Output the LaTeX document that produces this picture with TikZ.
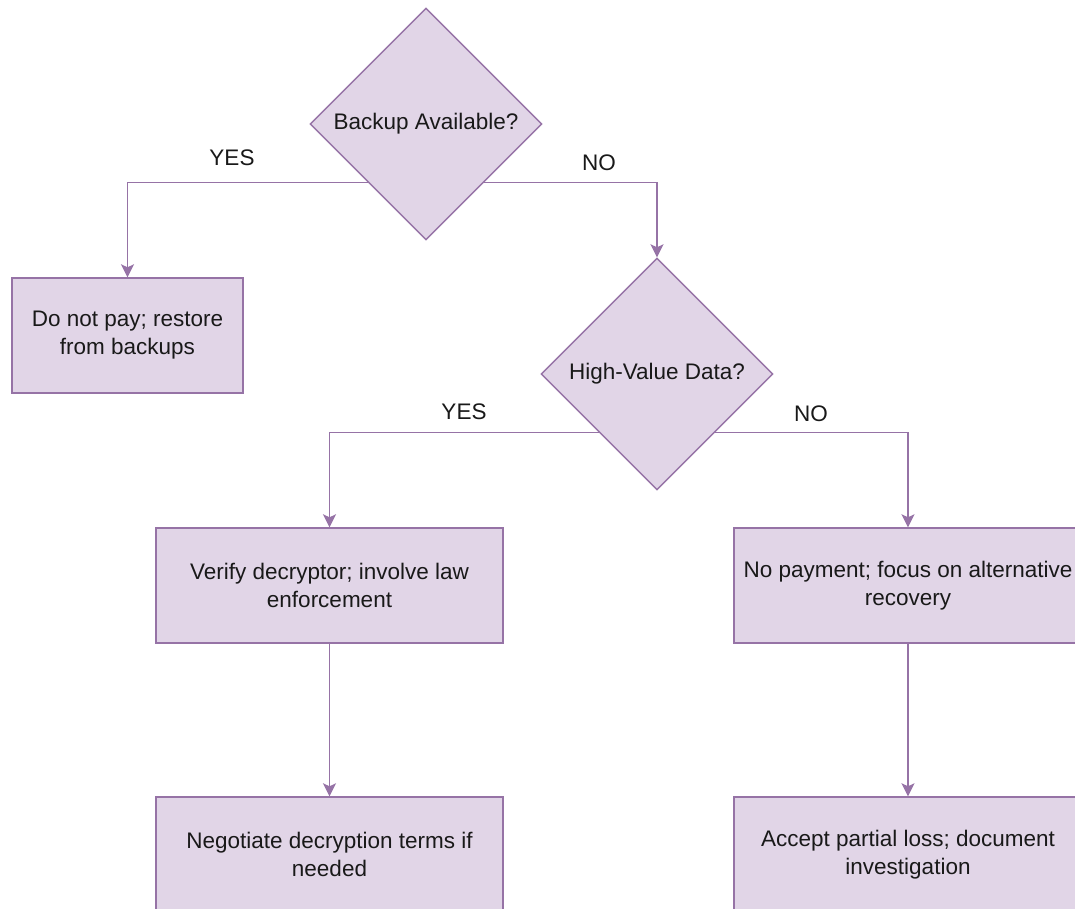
\documentclass[tikz,border=0pt]{standalone}
\usepackage{fontspec}
\setmainfont{Liberation Sans}
\usepackage{xcolor}
\usetikzlibrary{arrows.meta, positioning, calc, shapes.geometric}

\definecolor{boxfill}{HTML}{E1D5E7}
\definecolor{boxline}{HTML}{9673A6}

\begin{document}
\begin{tikzpicture}[x=1pt, y=-1pt, >={Stealth[length=13pt, width=13pt, inset=3pt]},
    every node/.style={font=\fontsize{22.5}{28}\selectfont, text=black!90},
    decision/.style={diamond, aspect=1, draw=boxline, fill=boxfill, line width=1.4pt,
        minimum width=232pt, minimum height=232pt, inner sep=0pt},
    actionbox/.style={rectangle, draw=boxline, fill=boxfill, line width=1.4pt,
        minimum height=115pt, align=center, inner sep=0pt},
    flow/.style={->, draw=boxline, line width=1.4pt}]
    \clip (0,0) rectangle (1075,909);
    \fill[white] (0,0) rectangle (1075,909);

    % decisions
    \node[decision] (backup) at (426,124) {Backup Available?};
    \node[decision] (value) at (657,374) {High-Value Data?};

    % actions
    \node[actionbox, minimum width=231pt] (restore) at (127.5,335.5) {Do not pay; restore\\from backups};
    \node[actionbox, minimum width=347pt] (verify) at (329.5,585.5) {Verify decryptor; involve law\\enforcement};
    \node[actionbox, minimum width=348pt] (nopay) at (908,585.5) {No payment; focus on alternative\\recovery};
    \node[actionbox, minimum width=347pt] (negotiate) at (329.5,854.5) {Negotiate decryption terms if\\needed};
    \node[actionbox, minimum width=348pt] (accept) at (908,854.5) {Accept partial loss; document\\investigation};

    % connectors
    \draw[flow] ($(backup.west)!0.5!(backup.south)$) -| (restore.north);
    \draw[flow] ($(backup.east)!0.5!(backup.south)$) -| (value.north);
    \draw[flow] ($(value.west)!0.5!(value.south)$) -| (verify.north);
    \draw[flow] ($(value.east)!0.5!(value.south)$) -| (nopay.north);
    \draw[flow] (verify) -- (negotiate);
    \draw[flow] (nopay) -- (accept);

    % branch labels
    \node (yesbackup) at (232,158) {YES};
    \node (nobackup) at (599,163) {NO};
    \node (yesvalue) at (464,412) {YES};
    \node (novalue) at (811,414) {NO};
\end{tikzpicture}
\end{document}
